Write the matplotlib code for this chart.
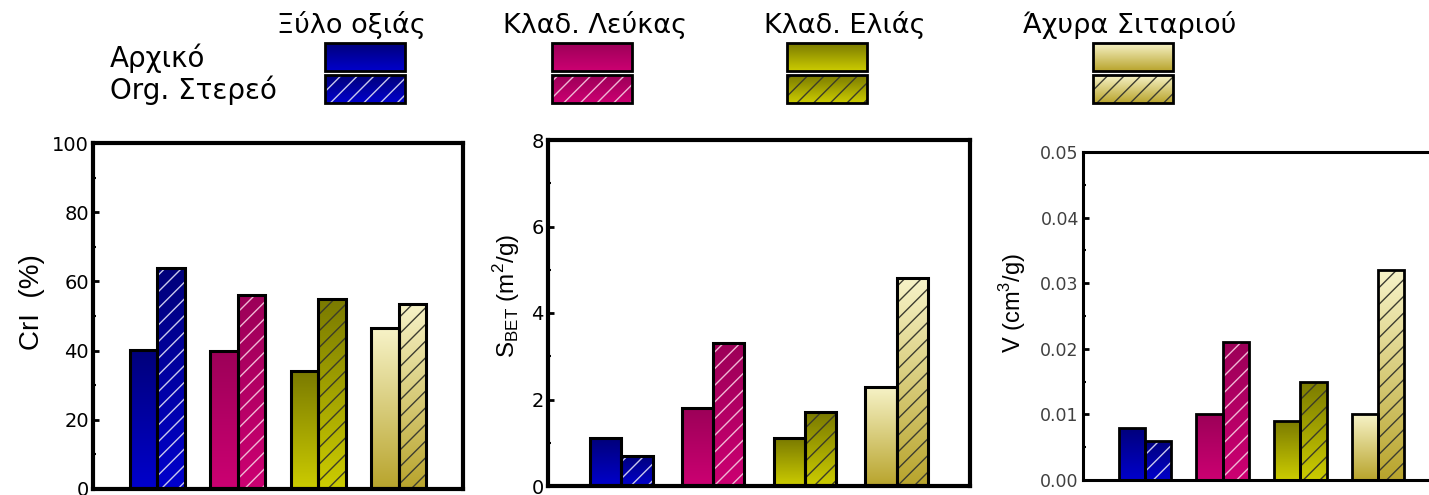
import numpy as np
import matplotlib.pyplot as plt
from matplotlib.colors import to_rgb
from matplotlib.patches import Rectangle
from matplotlib.ticker import MultipleLocator, FormatStrFormatter

materials = ["Ξύλο οξιάς", "Κλαδ. Λεύκας", "Κλαδ. Ελιάς", "Άχυρα Σιταριού"]
states = ["Αρχικό", "Org. Στερεό"]

cri_initial = [40.2, 40.0, 34.0, 46.5]
cri_solid = [64.0, 56.0, 55.0, 53.5]
sbet_initial = [1.1, 1.8, 1.1, 2.3]
sbet_solid = [0.7, 3.3, 1.7, 4.8]
vol_initial = [0.008, 0.010, 0.009, 0.010]
vol_solid = [0.006, 0.021, 0.015, 0.032]

# top -> bottom colour of each material's gradient fill
grad_top = ["#00007a", "#9c0058", "#7a7a00", "#f7f3c8"]
grad_bottom = ["#0000cc", "#cc0072", "#cccc00", "#b8a42c"]
hatch_colors = ["#c8c8ec", "#f0b8d4", "#3c3c28", "#3c3c30"]

W, H = 1429, 495
plt.rcParams["font.family"] = ["DejaVu Sans"]
plt.rcParams["hatch.linewidth"] = 1.0
label_font = ["Liberation Sans"]


def gradient(top, bottom, n=256):
    t = np.linspace(0, 1, n)[:, None]
    c0 = np.array(to_rgb(top))
    c1 = np.array(to_rgb(bottom))
    return (c0 * (1 - t) + c1 * t)[:, None, :]


def fill_gradient(ax, rect, top, bottom):
    x0, y0 = rect.get_x(), rect.get_y()
    x1, y1 = x0 + rect.get_width(), y0 + rect.get_height()
    im = ax.imshow(gradient(top, bottom), extent=[x0, x1, y0, y1],
                   origin="upper", aspect="auto", interpolation="bilinear",
                   zorder=1)
    im.set_clip_path(rect)


def draw_panel(ax, initial, solid, edge_lw):
    x = np.arange(1, len(initial) + 1)
    w = 0.34
    for vals, off, hatched in [(initial, -w / 2, False), (solid, w / 2, True)]:
        bars = ax.bar(x + off, vals, w, facecolor="none", edgecolor="none",
                      zorder=1)
        for i, b in enumerate(bars):
            fill_gradient(ax, b, grad_top[i], grad_bottom[i])
            if hatched:
                ax.bar(b.get_x() + w / 2, b.get_height(), w, facecolor="none",
                       edgecolor=hatch_colors[i], hatch="//", linewidth=0,
                       zorder=2)
        ax.bar(x + off, vals, w, facecolor="none", edgecolor="black",
               linewidth=edge_lw, zorder=3)
    ax.set_xlim(0.2, 4.8)
    ax.set_xticks([])
    ax.tick_params(axis="y", which="major", direction="in", length=4,
                   width=2, labelsize=14, pad=3)
    ax.tick_params(axis="y", which="minor", direction="in", length=2,
                   width=1.5)


fig = plt.figure(figsize=(W / 100, H / 100), dpi=100)

ax1 = fig.add_axes([93 / W, 1 - 489 / H, 370 / W, 346 / H])
ax2 = fig.add_axes([548 / W, 1 - 486 / H, 422 / W, 346 / H])
ax3 = fig.add_axes([1083 / W, 1 - 480 / H, 357 / W, 328 / H])

draw_panel(ax1, cri_initial, cri_solid, 2.2)
ax1.set_ylim(0, 100)
ax1.yaxis.set_major_locator(MultipleLocator(20))
ax1.yaxis.set_minor_locator(MultipleLocator(10))
ax1.set_ylabel("CrI  (%)", fontsize=20, family=label_font)
ax1.yaxis.set_label_coords(-0.13, 0.54)

draw_panel(ax2, sbet_initial, sbet_solid, 2.2)
ax2.set_ylim(0, 8)
ax2.yaxis.set_major_locator(MultipleLocator(2))
ax2.yaxis.set_minor_locator(MultipleLocator(1))
ax2.set_ylabel(r"S$_{\mathregular{BET}}$ (m$^{\mathregular{2}}$/g)",
               fontsize=17.5, family=label_font)
ax2.yaxis.set_label_coords(-0.062, 0.55)

draw_panel(ax3, vol_initial, vol_solid, 2.0)
ax3.set_ylim(0, 0.05)
ax3.yaxis.set_major_locator(MultipleLocator(0.01))
ax3.yaxis.set_minor_locator(MultipleLocator(0.005))
ax3.yaxis.set_major_formatter(FormatStrFormatter("%.2f"))
ax3.tick_params(axis="y", labelcolor="#404040", labelsize=12.5)
ax3.set_ylabel(r"V (cm$^{\mathregular{3}}$/g)", fontsize=17,
               family=label_font)
ax3.yaxis.set_label_coords(-0.154, 0.54)

for ax, lw in [(ax1, 3.0), (ax2, 3.0), (ax3, 2.2)]:
    for s in ax.spines.values():
        s.set_linewidth(lw)

# legend block drawn in pixel space across the top of the figure
leg = fig.add_axes([0, 0, 1, 1])
leg.axis("off")

box_left = [325, 552, 787, 1093]
head_x = [351, 595, 845, 1130]
box_w, box_h = 80, 28
for i, name in enumerate(materials):
    leg.text(head_x[i], 25, name, ha="center", va="center", fontsize=19.5)
    for y0, hatched in [(43, False), (75, True)]:
        r = Rectangle((box_left[i], y0), box_w, box_h, facecolor="none",
                      edgecolor="none")
        leg.add_patch(r)
        im = leg.imshow(gradient(grad_top[i], grad_bottom[i]),
                        extent=[box_left[i], box_left[i] + box_w,
                                y0 + box_h, y0],
                        origin="upper", aspect="auto",
                        interpolation="bilinear", zorder=1)
        im.set_clip_path(r)
        if hatched:
            leg.add_patch(Rectangle((box_left[i], y0), box_w, box_h,
                                    facecolor="none",
                                    edgecolor=hatch_colors[i], hatch="//",
                                    linewidth=0, zorder=2))
        leg.add_patch(Rectangle((box_left[i], y0), box_w, box_h,
                                facecolor="none", edgecolor="black",
                                linewidth=2.0, zorder=3))
leg.set_xlim(0, W)
leg.set_ylim(H, 0)

leg.text(110, 58, states[0], ha="left", va="center", fontsize=20)
leg.text(110, 90, states[1], ha="left", va="center", fontsize=20)

fig.savefig("out.png", dpi=100)
